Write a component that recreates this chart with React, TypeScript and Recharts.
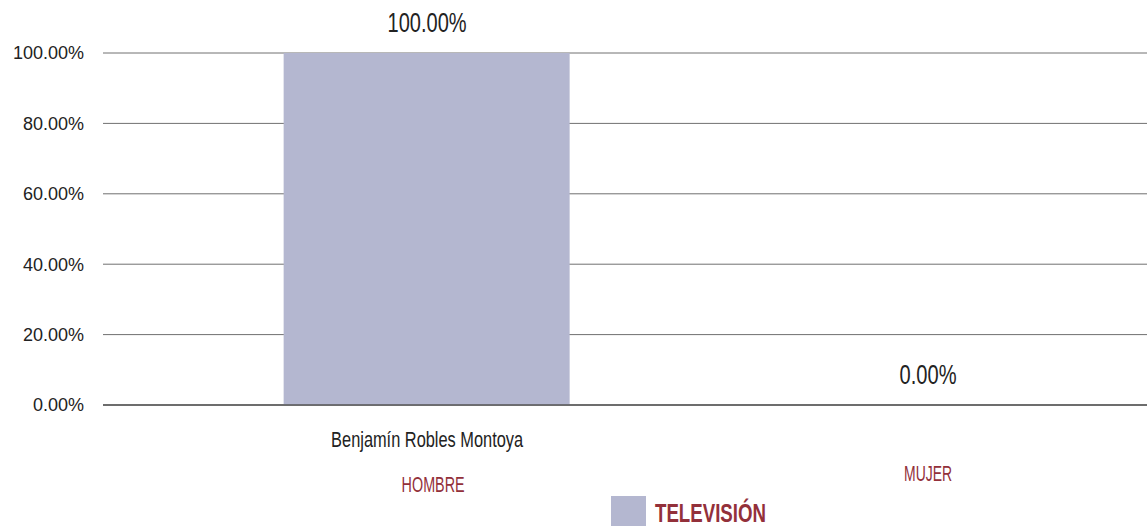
import React from 'react';
import { ComposedChart, Bar, Scatter, XAxis, YAxis, CartesianGrid } from 'recharts';

const CATEGORIES = ['Benjamín Robles Montoya', ''];
const GENDERS = ['HOMBRE', 'MUJER'];
const TELEVISION = [1, 0];
const Y_TICKS = [0, 0.2, 0.4, 0.6, 0.8, 1];
const SERIES_NAME = 'TELEVISIÓN';

const BAR_COLOR = '#b4b7d0';
const RED = '#93303a';
const FONT = '"Liberation Sans", Arial, sans-serif';

const data = CATEGORIES.map((name, i) => ({
  idx: i,
  name,
  gender: GENDERS[i],
  value: TELEVISION[i],
}));

const pct = (v: number) => (v * 100).toFixed(2) + '%';

// condensed look: squeeze glyphs to roughly the widths of the original narrow face
const squeeze = (s: string, size: number, ratio: number) => Math.round(s.length * size * ratio);

function CategoryTick(props: any) {
  const { x, y, payload } = props;
  const d = data[payload.value];
  if (!d) return null;
  return (
    <g fontFamily={FONT}>
      {d.name && (
        <text x={x} y={y + 34} textAnchor="middle" fill="#222" fontSize={22} textLength={192} lengthAdjust="spacingAndGlyphs">
          {d.name}
        </text>
      )}
      <text
        x={x + (d.name ? 6 : 0)}
        y={y + (d.name ? 79 : 68)}
        textAnchor="middle"
        fill={RED}
        fontSize={22}
        textLength={d.gender === 'HOMBRE' ? 63 : 48}
        lengthAdjust="spacingAndGlyphs"
      >
        {d.gender}
      </text>
    </g>
  );
}

function ValueLabel(props: any) {
  const { cx, cy, payload } = props;
  const s = pct(Number(payload.value));
  return (
    <text
      x={cx}
      y={cy - 21}
      textAnchor="middle"
      fill="#222"
      fontSize={27}
      fontFamily={FONT}
      textLength={squeeze(s, 27, 0.42)}
      lengthAdjust="spacingAndGlyphs"
    >
      {s}
    </text>
  );
}

export default function App() {
  return (
    <div style={{ position: 'absolute', left: 0, top: 0, width: 1147, height: 526, background: '#fff' }}>
      <ComposedChart width={1147} height={526} data={data} margin={{ top: 53, right: 0, bottom: 0, left: 0 }}>
        <CartesianGrid vertical={false} stroke="#707070" strokeWidth={1} />
        <XAxis
          dataKey="idx"
          type="number"
          domain={[-0.647, 1.437]}
          ticks={[0, 1]}
          height={121}
          axisLine={{ stroke: '#555', strokeWidth: 1.5 }}
          tickLine={false}
          tick={<CategoryTick />}
          interval={0}
        />
        <YAxis
          width={103}
          domain={[0, 1]}
          ticks={Y_TICKS}
          tickFormatter={pct}
          axisLine={false}
          tickLine={false}
          tickSize={0}
          tickMargin={19}
          tick={{ fill: '#222', fontSize: 18, fontFamily: FONT }}
        />
        <Bar dataKey="value" name={SERIES_NAME} fill={BAR_COLOR} barSize={286} isAnimationActive={false} />
        <Scatter dataKey="value" shape={<ValueLabel />} isAnimationActive={false} legendType="none" />
      </ComposedChart>
      <svg style={{ position: 'absolute', left: 0, top: 0 }} width={1147} height={526} pointerEvents="none">
        <rect x={611} y={496} width={35} height={30} fill={BAR_COLOR} />
        <text
          x={655}
          y={522}
          fill={RED}
          fontSize={25}
          fontWeight="bold"
          fontFamily={FONT}
          textLength={111}
          lengthAdjust="spacingAndGlyphs"
        >
          {SERIES_NAME}
        </text>
      </svg>
    </div>
  );
}
